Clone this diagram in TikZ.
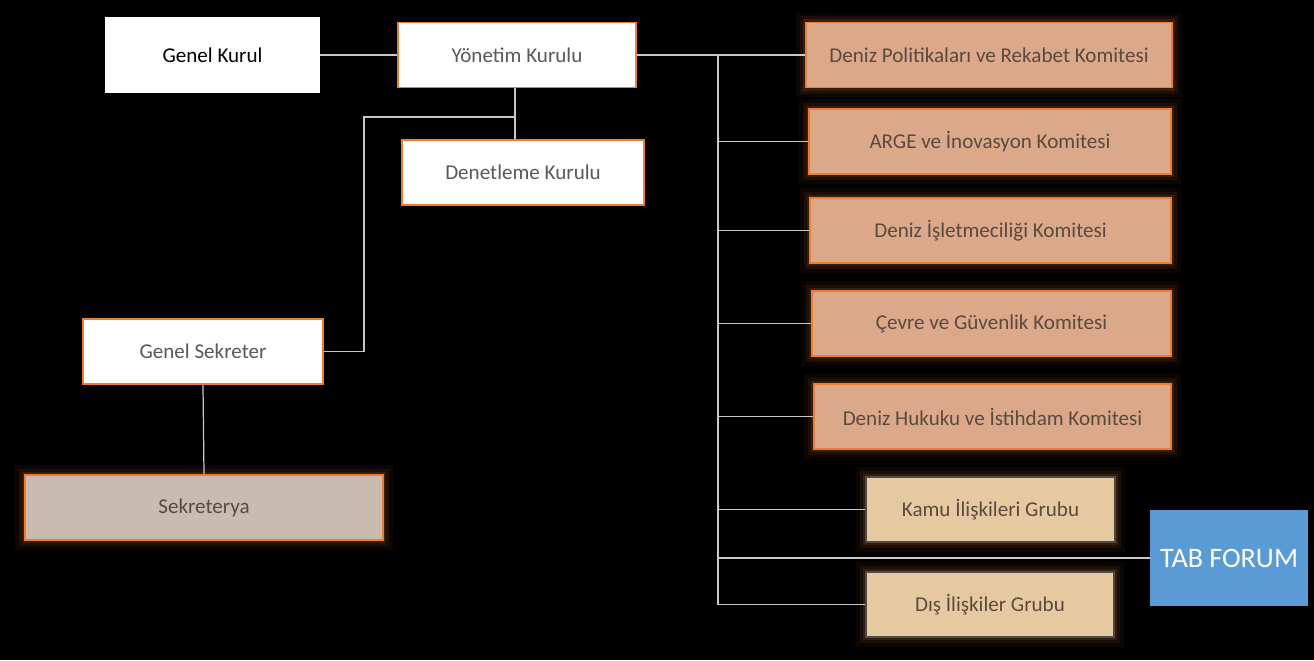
\documentclass[tikz,border=0pt]{standalone}
\usepackage{fontspec}
\setmainfont{Carlito}
\usetikzlibrary{calc}
\definecolor{boxorange}{RGB}{237,125,49}
\definecolor{peach}{RGB}{219,168,138}
\definecolor{tan}{RGB}{229,201,160}
\definecolor{greige}{RGB}{201,187,175}
\definecolor{forumblue}{RGB}{91,155,213}
\definecolor{linegray}{RGB}{200,200,200}
\definecolor{textgray}{RGB}{89,89,89}
\definecolor{textbrown}{RGB}{90,74,64}

\begin{document}
\begin{tikzpicture}[x=0.02cm, y=-0.02cm,
    basebox/.style={rectangle, inner sep=0pt, minimum height=1.3cm, font=\fontsize{12}{14}\selectfont},
    plainbox/.style={basebox, fill=white, text=black, minimum height=1.54cm},
    whitebox/.style={basebox, fill=white, draw=boxorange, line width=0.9pt, text=textgray},
    glowbox/.style={basebox, draw=boxorange, line width=0.9pt, text=textbrown,
        preaction={draw=boxorange, line width=11pt, opacity=0.05},
        preaction={draw=boxorange, line width=7pt, opacity=0.08},
        preaction={draw=boxorange, line width=3.5pt, opacity=0.12}},
    committee/.style={glowbox, fill=peach},
    groupbox/.style={glowbox, fill=tan, draw=black!70},
    forum/.style={rectangle, inner sep=0pt, fill=forumblue, text=white, font=\fontsize{16}{19}\selectfont},
    link/.style={draw=linegray, line width=0.7pt}]

    % background
    \fill[black] (0,0) rectangle (1314,660);

    % board side
    \node[plainbox, minimum width=4.3cm] (genel) at (212.5,55) {Genel Kurul};
    \node[whitebox, minimum width=4.76cm] (yonetim) at (517,55) {Yönetim Kurulu};
    \node[whitebox, minimum width=4.84cm] (denetleme) at (523,172.5) {Denetleme\ Kurulu};
    \node[whitebox, minimum width=4.8cm] (sekreter) at (203,351.5) {Genel Sekreter};
    \node[glowbox, fill=greige, minimum width=7.16cm] (sekreterya) at (204,507.5) {Sekreterya};

    % committees
    \node[committee, minimum width=7.32cm] (kom1) at (989,55) {Deniz Politikaları ve Rekabet\ Komitesi};
    \node[committee, minimum width=7.24cm] (kom2) at (990,141.5) {ARGE ve İnovasyon\ Komitesi};
    \node[committee, minimum width=7.22cm] (kom3) at (990.5,230.5) {Deniz İşletmeciliği Komitesi};
    \node[committee, minimum width=7.18cm] (kom4) at (991.5,323.5) {Çevre ve Güvenlik Komitesi};
    \node[committee, minimum width=7.14cm] (kom5) at (992.5,416.5) {Deniz Hukuku ve İstihdam Komitesi};

    % groups
    \node[groupbox, minimum width=4.98cm] (kamu) at (990.5,509.5) {Kamu İlişkileri Grubu};
    \node[groupbox, minimum width=4.96cm] (dis) at (990,604.5) {Dış İlişkiler Grubu};
    \node[forum, minimum width=3.16cm, minimum height=1.92cm] (tabforum) at (1229,558) {TAB FORUM};

    % connectors on the left
    \draw[link] (genel.east) -- (yonetim.west);
    \coordinate (split) at (515,117);
    \coordinate (bend) at (364,117);
    \draw[link] (yonetim.south -| split) -- (denetleme.north -| split);
    \draw[link] (split) -- (bend) |- (sekreter.east);
    \draw[link] (sekreter.south) -- (sekreterya.north);

    % trunk to the committees
    \coordinate (trunk) at (718,55);
    \draw[link] (yonetim.east) -- (kom1.west);
    \draw[link] (trunk) -- (trunk |- dis.west);
    \foreach \k in {kom2,kom3,kom4,kom5,kamu,tabforum,dis}
        \draw[link] (trunk |- \k.west) -- (\k.west);
\end{tikzpicture}
\end{document}
